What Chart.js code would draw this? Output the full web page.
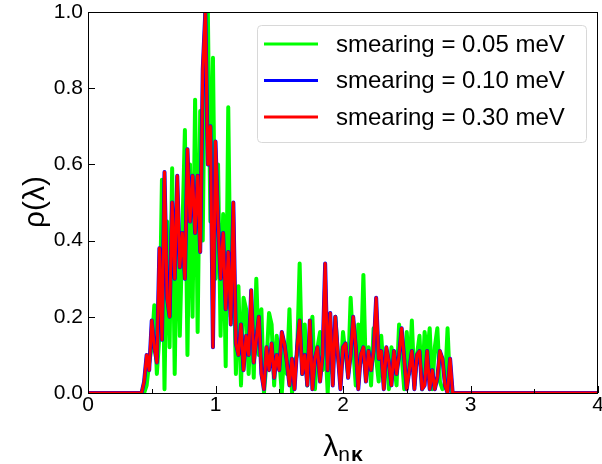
<!DOCTYPE html>
<html><head><meta charset="utf-8">
<script src="https://cdn.jsdelivr.net/npm/chart.js@4/dist/chart.umd.min.js"></script>
<style>html,body{margin:0;padding:0;background:#fff}#wrap{width:602px;height:464px}</style>
</head><body><div id="wrap"><canvas id="c" width="602" height="464"></canvas></div>
<script>
const lambdaValues = [0,
 0.40,0.42,0.44,0.46,0.48,0.50,0.52,0.54,0.56,0.58,
 0.60,0.62,0.64,0.66,0.68,0.70,0.72,0.74,0.76,0.78,
 0.80,0.82,0.84,0.86,0.88,0.90,0.92,0.94,0.96,0.98,
 1.00,1.02,1.04,1.06,1.08,1.10,1.12,1.14,1.16,1.18,
 1.20,1.22,1.24,1.26,1.28,1.30,1.32,1.34,1.36,1.38,
 1.40,1.42,1.44,1.46,1.48,1.50,1.52,1.54,1.56,1.58,
 1.60,1.62,1.64,1.66,1.68,1.70,1.72,1.74,1.76,1.78,
 1.80,1.82,1.84,1.86,1.88,1.90,1.92,1.94,1.96,1.98,
 2.00,2.02,2.04,2.06,2.08,2.10,2.12,2.14,2.16,2.18,
 2.20,2.22,2.24,2.26,2.28,2.30,2.32,2.34,2.36,2.38,
 2.40,2.42,2.44,2.46,2.48,2.50,2.52,2.54,2.56,2.58,
 2.60,2.62,2.64,2.66,2.68,2.70,2.72,2.74,2.76,2.78,
 2.80,2.82,2.84,2.86,2.88,2.90,
 4.0];

const rho005 = [0,
 0,0,0,0.02,0.08,0.12,0.23,0.05,0.15,0.56,
 0.01,0.45,0.12,0.59,0.05,0.50,0.15,0.42,0.69,0.10,
 0.60,0.20,0.77,0.16,0.74,0.40,1.00,1.00,0.45,0.88,
 0.30,0.60,0.15,0.47,0.07,0.75,0.20,0.38,0.05,0.28,
 0.02,0.25,0.22,0.05,0.22,0.04,0.30,0.10,0.22,0.00,
 0.08,0.21,0.18,0.02,0.15,0.09,0.00,0.12,0.05,0.22,
 0.00,0.08,0.10,0.34,0.05,0.18,0.02,0.14,0.20,0.01,
 0.12,0.16,0.06,0.14,0.00,0.15,0.05,0.20,0.10,0.04,
 0.16,0.10,0.05,0.25,0.12,0.02,0.18,0.08,0.31,0.04,
 0.12,0.02,0.17,0.09,0.03,0.15,0.05,0.10,0.01,0.12,
 0.08,0.02,0.18,0.10,0.01,0.16,0.05,0.19,0.02,0.10,
 0.15,0.01,0.16,0.10,0.17,0.01,0.12,0.17,0.03,0.01,
 0.02,0.17,0.01,0.00,0,0,
 0];

const rho010 = [0,
 0,0,0.03,0.10,0.06,0.19,0.12,0.08,0.38,0.14,
 0.58,0.25,0.20,0.50,0.30,0.57,0.33,0.42,0.30,0.64,
 0.45,0.57,0.42,0.57,0.37,0.85,1.00,0.60,0.70,0.12,
 0.66,0.45,0.30,0.42,0.22,0.37,0.18,0.50,0.13,0.10,
 0.18,0.06,0.15,0.10,0.27,0.08,0.14,0.20,0.05,0.01,
 0.12,0.06,0.13,0.04,0.10,0.06,0.16,0.13,0.08,0.02,
 0.09,0.01,0.12,0.19,0.05,0.10,0.02,0.19,0.01,0.09,
 0.12,0.03,0.10,0.34,0.06,0.21,0.02,0.20,0.10,0.01,
 0.12,0.13,0.04,0.10,0.20,0.12,0.01,0.10,0.12,0.03,
 0.11,0.06,0.11,0.25,0.09,0.11,0.01,0.12,0.08,0.02,
 0.11,0.05,0.10,0.17,0.09,0.01,0.06,0.11,0.01,0.10,
 0.11,0.01,0.02,0.11,0.01,0.06,0.01,0.04,0.11,0.09,
 0.02,0.00,0.09,0.00,0,0,
 0];

const rho030 = [0,
 0,0,0.03,0.10,0.06,0.19,0.12,0.08,0.38,0.14,
 0.58,0.25,0.20,0.50,0.30,0.57,0.33,0.42,0.30,0.64,
 0.45,0.57,0.42,0.57,0.37,0.85,1.00,0.60,0.70,0.12,
 0.66,0.45,0.30,0.42,0.22,0.37,0.18,0.50,0.13,0.10,
 0.18,0.06,0.15,0.10,0.27,0.08,0.14,0.20,0.05,0.01,
 0.12,0.06,0.13,0.04,0.10,0.06,0.16,0.13,0.08,0.02,
 0.09,0.01,0.12,0.19,0.05,0.10,0.02,0.19,0.01,0.09,
 0.12,0.03,0.10,0.34,0.06,0.21,0.02,0.20,0.10,0.01,
 0.12,0.13,0.04,0.10,0.20,0.12,0.01,0.10,0.12,0.03,
 0.11,0.06,0.11,0.25,0.09,0.11,0.01,0.12,0.08,0.02,
 0.11,0.05,0.10,0.17,0.09,0.01,0.06,0.11,0.01,0.10,
 0.11,0.01,0.02,0.11,0.01,0.06,0.01,0.04,0.11,0.09,
 0.02,0.00,0.09,0.00,0,0,
 0];

const seriesLabels = ['smearing = 0.05 meV', 'smearing = 0.10 meV', 'smearing = 0.30 meV'];
const seriesColors = ['#00ff00', '#0000ff', '#ff0000'];
const xMajorTicks = [0, 1, 2, 3, 4];
const xMinorTicks = [0.5, 1.5, 2.5, 3.5];
const yMajorTicks = [0, 0.2, 0.4, 0.6, 0.8, 1.0];

const FONT = "'Liberation Sans', Arial, sans-serif";

function pts(vals) { return lambdaValues.map((x, i) => ({x: x, y: vals[i]})); }

const framePlugin = {
  id: 'frame',
  afterDatasetsDraw(chart) {
    const ctx = chart.ctx, a = chart.chartArea;
    const xs = chart.scales.x, ys = chart.scales.y;
    ctx.save();
    ctx.strokeStyle = '#000';
    ctx.lineWidth = 1;
    ctx.strokeRect(Math.round(a.left) + 0.5, Math.round(a.top) + 0.5, Math.round(a.right - a.left) - 1, Math.round(a.bottom - a.top));
    ctx.beginPath();
    xMajorTicks.forEach(v => { const p = Math.round(xs.getPixelForValue(v)) + 0.5; ctx.moveTo(p, a.bottom); ctx.lineTo(p, a.bottom - 7); });
    xMinorTicks.forEach(v => { const p = Math.round(xs.getPixelForValue(v)) + 0.5; ctx.moveTo(p, a.bottom); ctx.lineTo(p, a.bottom - 4); });
    yMajorTicks.forEach(v => { const p = Math.round(ys.getPixelForValue(v)) + 0.5; ctx.moveTo(a.left, p); ctx.lineTo(a.left + 7, p); });
    ctx.stroke();

    // legend box
    const lx = 257, ly = 25, lw = 329, lh = 117;
    ctx.fillStyle = 'rgba(255,255,255,0.8)';
    ctx.strokeStyle = '#d8d8d8';
    ctx.beginPath();
    if (ctx.roundRect) ctx.roundRect(lx + 0.5, ly + 0.5, lw, lh, 4); else ctx.rect(lx + 0.5, ly + 0.5, lw, lh);
    ctx.fill(); ctx.stroke();
    ctx.font = '24px ' + FONT;
    ctx.textBaseline = 'middle';
    ctx.textAlign = 'left';
    seriesLabels.forEach((lab, i) => {
      const y = 44 + i * 36.5;
      ctx.strokeStyle = seriesColors[i];
      ctx.lineWidth = 3;
      ctx.beginPath(); ctx.moveTo(264, y); ctx.lineTo(318, y); ctx.stroke();
      ctx.fillStyle = '#000';
      ctx.fillText(lab, 336, y + 1);
    });
    ctx.restore();
  },
  afterDraw(chart) {
    const ctx = chart.ctx;
    ctx.save();
    ctx.fillStyle = '#000';
    ctx.translate(36, 202);
    ctx.rotate(-Math.PI / 2);
    ctx.font = '30px ' + FONT;
    ctx.textAlign = 'center';
    ctx.textBaseline = 'middle';
    ctx.fillText('\u03c1(\u03bb)', 0, 0);
    ctx.restore();
    ctx.save();
    ctx.fillStyle = '#000';
    ctx.textBaseline = 'alphabetic';
    ctx.textAlign = 'left';
    const big = '30px ' + FONT, small = '21px ' + FONT, smallB = 'bold 21px ' + FONT;
    ctx.font = big; const w1 = ctx.measureText('\u03bb').width;
    ctx.font = small; const w2 = ctx.measureText('n').width;
    ctx.font = smallB; const w3 = ctx.measureText('\u03ba').width;
    const total = w1 + w2 + 1 + w3;
    const a = chart.chartArea;
    let x = (a.left + a.right) / 2 - total / 2;
    ctx.font = big; ctx.fillText('\u03bb', x, 456); x += w1;
    ctx.font = small; ctx.fillText('n', x, 461); x += w2 + 1;
    ctx.font = smallB; ctx.fillText('\u03ba', x, 461);
    ctx.restore();
  }
};

new Chart(document.getElementById('c'), {
  type: 'line',
  data: {
    datasets: [
      {label: seriesLabels[2], data: pts(rho030), borderColor: seriesColors[2], borderWidth: 3, order: 1},
      {label: seriesLabels[1], data: pts(rho010), borderColor: seriesColors[1], borderWidth: 4, order: 2},
      {label: seriesLabels[0], data: pts(rho005), borderColor: seriesColors[0], borderWidth: 4, order: 3}
    ].map(d => Object.assign(d, {pointRadius: 0, tension: 0, fill: false, borderJoinStyle: 'round', borderCapStyle: 'round', clip: 0}))
  },
  options: {
    responsive: false,
    animation: false,
    devicePixelRatio: 1,
    layout: {padding: {left: 0, right: 4, top: 12, bottom: 0}},
    plugins: {legend: {display: false}, tooltip: {enabled: false}},
    scales: {
      x: {
        type: 'linear', min: 0, max: 4,
        afterBuildTicks: s => { s.ticks = xMajorTicks.map(v => ({value: v})); },
        afterFit: s => { s.height = 71; s.paddingLeft = 0; s.paddingRight = 0; },
        grid: {display: false, drawTicks: false, tickLength: 0}, border: {display: false},
        ticks: {color: '#000', font: {family: FONT, size: 21}, padding: 0, maxRotation: 0, callback: v => String(v)}
      },
      y: {
        min: 0, max: 1,
        afterBuildTicks: s => { s.ticks = yMajorTicks.map(v => ({value: v})); },
        afterFit: s => { s.width = 88; s.paddingTop = 0; s.paddingBottom = 0; },
        grid: {display: false, drawTicks: false, tickLength: 0}, border: {display: false},
        ticks: {color: '#000', font: {family: FONT, size: 21}, padding: 5, callback: v => v.toFixed(1)}
      }
    }
  },
  plugins: [framePlugin]
});
</script>
</body></html>
